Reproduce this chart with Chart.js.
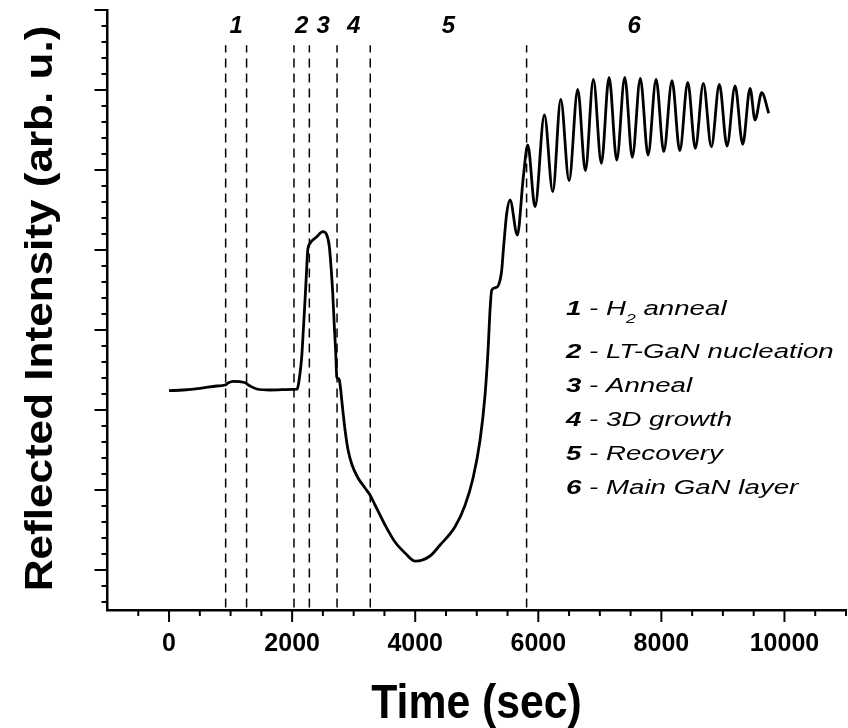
<!DOCTYPE html>
<html>
<head>
<meta charset="utf-8">
<script src="https://cdn.jsdelivr.net/npm/chart.js@4.4.0/dist/chart.umd.min.js"></script>
<style>
  html, body { margin: 0; padding: 0; background: #fff; }
  #wrap { position: relative; width: 848px; height: 728px; }
</style>
</head>
<body>
<div id="wrap"><canvas id="reflectance"></canvas></div>
<script>
// reflectance trace, time in seconds
const timeSec = [0, 232, 504, 775, 911, 965, 1046, 1154, 1236, 1317, 1426, 1642, 2021, 2080, 2129, 2156, 2182, 2210, 2238, 2254, 2291, 2400, 2498, 2563, 2605, 2632, 2660, 2686, 2709, 2725, 2741, 2767, 2790, 2806, 2860, 2909, 2974, 3071, 3185, 3266, 3347, 3510, 3672, 3835, 4000, 4241, 4404, 4647, 4810, 4940, 5054, 5135, 5184, 5216, 5244, 5325, 5379, 5406, 5432, 5460, 5487, 5541, 5660, 5757, 5829, 5947, 6099, 6235, 6365, 6500, 6641, 6765, 6895, 7025, 7150, 7275, 7405, 7528, 7658, 7784, 7914, 8039, 8173, 8299, 8429, 8552, 8682, 8812, 8942, 9067, 9197, 9322, 9441, 9522, 9631, 9745];
const intensity = [3.241, 3.25, 3.271, 3.3, 3.3125, 3.341, 3.359, 3.354, 3.341, 3.3, 3.2625, 3.25, 3.259, 3.26, 3.4625, 3.666, 4.0, 4.375, 4.791, 5.0, 5.084, 5.166, 5.229, 5.1875, 5.041, 4.791, 4.459, 4.041, 3.709, 3.416, 3.396, 3.375, 3.25, 3.125, 2.75, 2.5, 2.3125, 2.15, 2.025, 1.9375, 1.8125, 1.5625, 1.35, 1.2125, 1.11, 1.175, 1.3125, 1.54, 1.81, 2.15, 2.625, 3.19, 3.75, 4.25, 4.5, 4.534, 4.625, 4.75, 5.0, 5.25, 5.459, 5.625, 5.1875, 5.916, 6.3125, 5.541, 6.6875, 5.729, 6.884, 5.866, 7.009, 5.991, 7.134, 6.084, 7.159, 6.125, 7.159, 6.159, 7.146, 6.1875, 7.134, 6.229, 7.116, 6.241, 7.096, 6.271, 7.084, 6.291, 7.071, 6.3, 7.05, 6.321, 7.021, 6.625, 6.966, 6.709];

// dashed phase boundaries and phase numbers
const phaseBounds = [920, 1260, 2030, 2280, 2730, 3270, 5810];
const phaseLabels = ['1', '2', '3', '4', '5', '6'];
const phaseLabelTime = [1090, 2155, 2505, 3000, 4540, 7560];
const phaseLabelLevel = 7.79;
const dashBottom = 0.53;
const dashTop = 7.56;

const legendNames = ['H2 anneal', 'LT-GaN nucleation', 'Anneal', '3D growth', 'Recovery', 'Main GaN layer'];

const xTicks = [-1000, 0, 2000, 4000, 6000, 8000, 10000, 11000];
const xTickLabels = ['', '0', '2000', '4000', '6000', '8000', '10000', ''];
const yMin = 0.5;
const yMax = 8;

const FONT = '"Liberation Sans", Arial, Helvetica, sans-serif';

const datasets = [{
  data: timeSec.map((t, i) => ({ x: t, y: intensity[i] })),
  borderColor: '#000',
  borderWidth: 2.8,
  pointRadius: 0,
  cubicInterpolationMode: 'monotone',
  fill: false,
}];
phaseBounds.forEach((t) => {
  datasets.push({
    data: [{ x: t, y: dashBottom }, { x: t, y: dashTop }],
    borderColor: '#000',
    borderWidth: 1.5,
    borderDash: [9, 6],
    pointRadius: 0,
    fill: false,
  });
});

const decorations = {
  id: 'decorations',
  afterDraw(chart) {
    const ctx = chart.ctx;
    const xs = chart.scales.x;
    const ys = chart.scales.y;
    const area = chart.chartArea;
    ctx.save();
    ctx.strokeStyle = '#000';
    ctx.fillStyle = '#000';
    ctx.lineWidth = 2;

    // x ticks: major every 2000, minor every 500
    for (let v = -500; v <= 11000; v += 500) {
      const px = xs.getPixelForValue(v);
      const len = v % 2000 === 0 ? 12 : 6;
      ctx.beginPath();
      ctx.moveTo(px, area.bottom);
      ctx.lineTo(px, area.bottom + len);
      ctx.stroke();
    }
    // y ticks: major every 1, minor every 0.2
    for (let k = 3; k <= 40; k++) {
      const py = ys.getPixelForValue(k / 5);
      const len = k % 5 === 0 ? 13 : 6;
      ctx.beginPath();
      ctx.moveTo(area.left, py);
      ctx.lineTo(area.left - len, py);
      ctx.stroke();
    }

    // phase numbers
    ctx.font = 'italic bold 24px ' + FONT;
    ctx.textAlign = 'center';
    ctx.textBaseline = 'middle';
    phaseLabels.forEach((s, i) => {
      ctx.fillText(s, xs.getPixelForValue(phaseLabelTime[i]), ys.getPixelForValue(phaseLabelLevel));
    });

    // legend block
    const baselines = [315, 358, 392, 426, 460, 494];
    const sx = 1.35;
    ctx.textAlign = 'left';
    ctx.textBaseline = 'alphabetic';
    legendNames.forEach((name, i) => {
      ctx.save();
      ctx.translate(566, baselines[i]);
      ctx.scale(sx, 1);
      let x = 0;
      ctx.font = 'italic bold 20.5px ' + FONT;
      ctx.fillText(phaseLabels[i], x, 0);
      x += ctx.measureText(phaseLabels[i]).width;
      ctx.font = 'italic 20.5px ' + FONT;
      ctx.fillText(' - ', x, 0);
      x += ctx.measureText(' - ').width;
      if (i === 0) {
        ctx.fillText('H', x, 0);
        x += ctx.measureText('H').width;
        ctx.font = 'italic 13px ' + FONT;
        ctx.fillText('2', x, 8);
        x += ctx.measureText('2').width;
        ctx.font = 'italic 20.5px ' + FONT;
        ctx.fillText(' anneal', x, 0);
      } else {
        ctx.fillText(name, x, 0);
      }
      ctx.restore();
    });

    // axis titles
    ctx.save();
    ctx.font = 'bold 48px ' + FONT;
    ctx.textAlign = 'center';
    ctx.translate(476.5, 718);
    ctx.scale(0.89, 1);
    ctx.fillText('Time (sec)', 0, 0);
    ctx.restore();

    ctx.save();
    ctx.font = 'bold 39px ' + FONT;
    ctx.textAlign = 'center';
    ctx.translate(51.7, 308.5);
    ctx.rotate(-Math.PI / 2);
    ctx.scale(1.13, 1);
    ctx.fillText('Reflected Intensity (arb. u.)', 0, 0);
    ctx.restore();

    ctx.restore();
  },
};

new Chart(document.getElementById('reflectance'), {
  type: 'line',
  data: { datasets: datasets },
  options: {
    responsive: true,
    maintainAspectRatio: false,
    animation: false,
    events: [],
    layout: { autoPadding: false, padding: { left: 107.5, top: 10, right: 2, bottom: 71 } },
    plugins: {
      legend: { display: false },
      tooltip: { enabled: false },
    },
    scales: {
      x: {
        type: 'linear',
        min: -1000,
        max: 11000,
        afterBuildTicks: (scale) => {
          scale.ticks = xTicks.map((v) => ({ value: v }));
        },
        afterFit: (scale) => {
          scale.height = 47;
          scale.paddingLeft = 0;
          scale.paddingRight = 0;
        },
        ticks: {
          autoSkip: false,
          maxRotation: 0,
          padding: 19,
          color: '#000',
          font: { family: FONT, size: 25, weight: 'bold' },
          callback: (value) => xTickLabels[xTicks.indexOf(value)],
        },
        grid: { display: false, drawTicks: false },
        border: { display: true, color: '#000', width: 2.5 },
      },
      y: {
        type: 'linear',
        min: yMin,
        max: yMax,
        afterFit: (scale) => {
          scale.width = 0;
        },
        ticks: { display: false },
        grid: { display: false, drawTicks: false },
        border: { display: true, color: '#000', width: 2.5 },
      },
    },
  },
  plugins: [decorations],
});
</script>
</body>
</html>
